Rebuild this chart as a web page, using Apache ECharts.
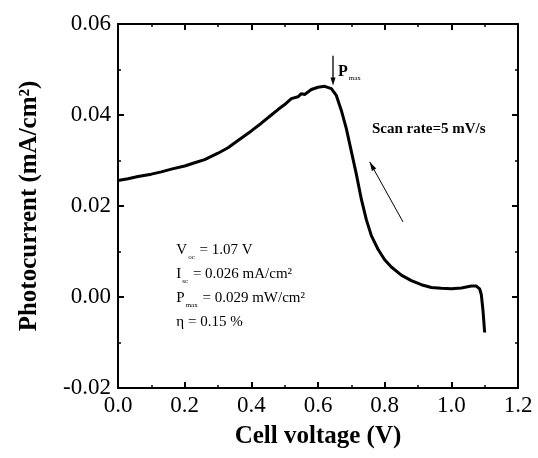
<!DOCTYPE html>
<html>
<head>
<meta charset="utf-8">
<script src="https://cdn.jsdelivr.net/npm/echarts@6/dist/echarts.min.js"></script>
<style>
  html,body{margin:0;padding:0;background:#fff;}
  #main{width:538px;height:458px;}
</style>
</head>
<body>
<div id="main"></div>
<script>
// cell voltage (V) and photocurrent (mA/cm2)
var voltage = [0, 0.03, 0.06, 0.1, 0.13, 0.16, 0.2, 0.23, 0.26, 0.3, 0.33, 0.36, 0.4, 0.43, 0.46, 0.48, 0.5, 0.52, 0.54, 0.55, 0.56, 0.58, 0.6, 0.62, 0.64, 0.655, 0.67, 0.685, 0.7, 0.715, 0.73, 0.745, 0.76, 0.78, 0.8, 0.82, 0.85, 0.88, 0.91, 0.94, 0.97, 1.0, 1.03, 1.06, 1.075, 1.085, 1.09, 1.095, 1.1];
var current = [0.0256, 0.0260, 0.0265, 0.0270, 0.0275, 0.0281, 0.0288, 0.0295, 0.0302, 0.0316, 0.0328, 0.0344, 0.0365, 0.0382, 0.0400, 0.0412, 0.0423, 0.0436, 0.0440, 0.0447, 0.0445, 0.0456, 0.0461, 0.0463, 0.0458, 0.0443, 0.0410, 0.0370, 0.0320, 0.0270, 0.0215, 0.0170, 0.0135, 0.0105, 0.0082, 0.0066, 0.0048, 0.0036, 0.0027, 0.0021, 0.0019, 0.0018, 0.0020, 0.0024, 0.0024, 0.0018, 0.0005, -0.0030, -0.0078];
var paramLines = [
  '{m|V}{s|oc}{m| = 1.07 V}',
  '{m|I}{s|sc}{m| = 0.026 mA/cm²}',
  '{m|P}{s|max}{m| = 0.029 mW/cm²}',
  '{m|η = 0.15 %}'
];
var pmaxV = 0.645;

(function () {
  var serif = '"Liberation Serif", "DejaVu Serif", serif';
  var chart = echarts.init(document.getElementById('main'));

  var pts = voltage.map(function (v, i) { return [v, current[i]]; });

  var axisCommon = {
    axisLine: {show: true, onZero: false, lineStyle: {color: '#000', width: 2}},
    axisTick: {show: true, inside: true, length: 6, lineStyle: {color: '#000', width: 2}},
    minorTick: {show: true, splitNumber: 2, length: 3, lineStyle: {color: '#000', width: 1.5}},
    splitLine: {show: false}
  };

  chart.setOption({
    animation: false,
    backgroundColor: '#fff',
    grid: {left: 118, right: 20, top: 24, bottom: 70},
    xAxis: [
      Object.assign({
        type: 'value', min: 0, max: 1.2, interval: 0.2,
        name: 'Cell voltage (V)', nameLocation: 'middle', nameGap: 36,
        nameTextStyle: {fontFamily: serif, fontWeight: 'bold', fontSize: 25, color: '#000'},
        axisLabel: {fontFamily: serif, fontSize: 23, color: '#000', margin: 6,
          formatter: function (v) { return v.toFixed(1); }}
      }, axisCommon),
      Object.assign({
        type: 'value', min: 0, max: 1.2, interval: 0.2, position: 'top',
        axisLabel: {show: false}
      }, axisCommon)
    ],
    yAxis: [
      Object.assign({
        type: 'value', min: -0.02, max: 0.06, interval: 0.02,
        name: 'Photocurrent (mA/cm²)', nameLocation: 'middle', nameGap: 76,
        nameTextStyle: {fontFamily: serif, fontWeight: 'bold', fontSize: 25, color: '#000'},
        axisLabel: {fontFamily: serif, fontSize: 23, color: '#000', margin: 7,
          formatter: function (v) { return v.toFixed(2); }}
      }, axisCommon),
      Object.assign({
        type: 'value', min: -0.02, max: 0.06, interval: 0.02, position: 'right',
        axisLabel: {show: false}
      }, axisCommon)
    ],
    series: [{
      type: 'line',
      data: pts,
      showSymbol: false,
      lineStyle: {color: '#000', width: 3},
      silent: true
    }]
  });

  // annotations anchored to data coordinates
  function px(v, i) { return chart.convertToPixel({xAxisIndex: 0, yAxisIndex: 0}, [v, i]); }
  var pTop = px(pmaxV, 0.0530);
  var pTip = px(pmaxV, 0.0465);
  var arrA = px(0.855, 0.0165);
  var arrB = px(0.755, 0.0297);
  var txt = px(0.175, 0.0130);

  function head(p, q, len, w) {
    var dx = q[0] - p[0], dy = q[1] - p[1];
    var d = Math.sqrt(dx * dx + dy * dy);
    var ux = dx / d, uy = dy / d;
    var bx = q[0] - ux * len, by = q[1] - uy * len;
    return [[q[0], q[1]], [bx - uy * w, by + ux * w], [bx + uy * w, by - ux * w]];
  }

  chart.setOption({
    graphic: [
      {type: 'line', shape: {x1: pTop[0], y1: pTop[1], x2: pTip[0], y2: pTip[1] - 6}, style: {stroke: '#000', lineWidth: 1.3}},
      {type: 'polygon', shape: {points: head(pTop, pTip, 8, 2.5)}, style: {fill: '#000'}},
      {type: 'text', x: pTop[0] + 5, y: pTop[1] + 7,
        style: {text: '{b|P}{s|max}', rich: {
          b: {fontFamily: serif, fontWeight: 'bold', fontSize: 16, fill: '#000'},
          s: {fontFamily: serif, fontSize: 7, fill: '#000', padding: [12, 0, 0, 1]}
        }}},
      {type: 'text', x: 372, y: 122,
        style: {text: 'Scan rate=5 mV/s', fontFamily: serif, fontWeight: 'bold', fontSize: 15, fill: '#000'}},
      {type: 'line', shape: {x1: arrA[0], y1: arrA[1], x2: arrB[0], y2: arrB[1]}, style: {stroke: '#000', lineWidth: 1}},
      {type: 'polygon', shape: {points: head(arrA, arrB, 9, 2.5)}, style: {fill: '#000'}},
      {type: 'text', x: txt[0], y: txt[1],
        style: {text: paramLines.join('\n'), lineHeight: 24, rich: {
          m: {fontFamily: serif, fontSize: 15, fill: '#000', lineHeight: 24},
          s: {fontFamily: serif, fontSize: 7, fill: '#000', lineHeight: 24, padding: [14, 1, 0, 1]}
        }}}
    ]
  });
})();
</script>
</body>
</html>
